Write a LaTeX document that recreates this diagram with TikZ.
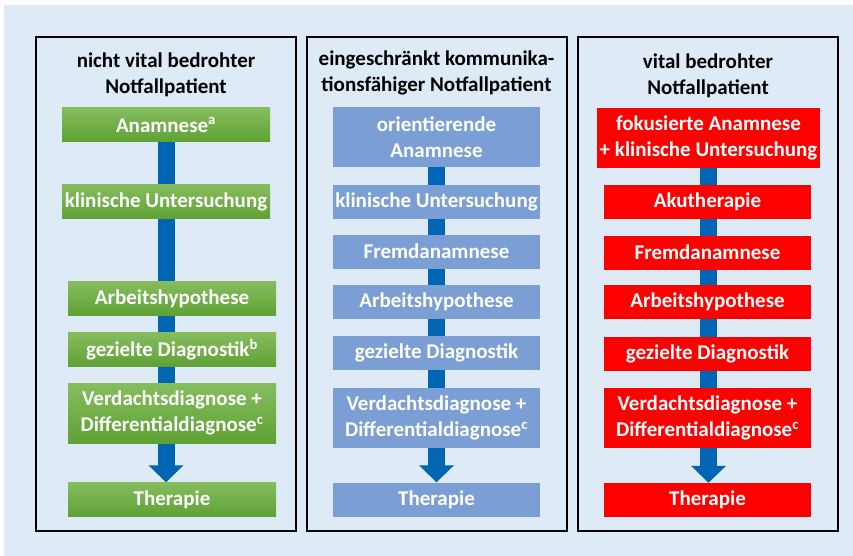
\documentclass[tikz,border=0pt]{standalone}
\usepackage{fontspec}
\setmainfont{Carlito}
\usetikzlibrary{arrows.meta}

\definecolor{hgblau}{RGB}{222,234,246}
\definecolor{pfeilblau}{RGB}{0,101,178}
\definecolor{gruenoben}{RGB}{134,189,95}
\definecolor{gruenunten}{RGB}{94,161,51}
\definecolor{kastenblau}{RGB}{123,159,212}
\definecolor{kastenrot}{RGB}{255,0,0}

\pgfdeclarelayer{hinten}
\pgfdeclarelayer{mitte}
\pgfsetlayers{hinten,mitte,main}

\tikzset{
  kasten/.style={text=white, font=\bfseries\fontsize{21}{26}\selectfont,
    align=center, inner sep=0pt, minimum height=34pt},
  gruen/.style={kasten, top color=gruenoben, bottom color=gruenunten, minimum width=208pt},
  blau/.style={kasten, fill=kastenblau, minimum width=207pt},
  rot/.style={kasten, fill=kastenrot, minimum width=207pt},
  zweizeilig/.style={minimum height=60pt},
  titel/.style={font=\bfseries\fontsize{21}{26}\selectfont, align=center, inner sep=0pt},
  spalte/.style={draw=black, line width=2pt},
  pfeil/.style={draw=pfeilblau, line width=17pt, -{Triangle[width=34pt,length=17pt]}},
}

\begin{document}
\begin{tikzpicture}[x=1pt,y=-1pt]
\useasboundingbox (0,0) rectangle (853,556);

\begin{pgfonlayer}{hinten}
  \fill[hgblau] (4,5) rectangle (853,556);
  \draw[spalte] (36,37) rectangle (296,531);
  \draw[spalte] (307,37) rectangle (567,531);
  \draw[spalte] (578,37) rectangle (838,531);
\end{pgfonlayer}

% nicht vital bedrohter Patient
\node[titel] (ltitel) at (166,75) {nicht vital bedrohter\\Notfallpatient};
\node[gruen] (l1) at (166,125) {Anamnese\textsuperscript{a}};
\node[gruen] (l2) at (166,201.5) {klinische Untersuchung};
\node[gruen] (l3) at (172,298.5) {Arbeitshypothese};
\node[gruen] (l4) at (172,349.5) {gezielte Diagnostik\textsuperscript{b}};
\node[gruen,zweizeilig] (l5) at (172,413) {Verdachtsdiagnose +\\Differentialdiagnose\textsuperscript{c}};
\node[gruen] (l6) at (172,499.5) {Therapie};

% eingeschraenkt kommunikationsfaehiger Patient
\node[titel] (mtitel) at (436.5,73) {eingeschränkt kommunika-\\tionsfähiger Notfallpatient};
\node[blau,zweizeilig] (m1) at (436.5,137) {orientierende\\Anamnese};
\node[blau] (m2) at (436.5,202) {klinische Untersuchung};
\node[blau] (m3) at (436.5,251.5) {Fremdanamnese};
\node[blau] (m4) at (436.5,301.5) {Arbeitshypothese};
\node[blau] (m5) at (436.5,352.5) {gezielte Diagnostik};
\node[blau,zweizeilig] (m6) at (436.5,418) {Verdachtsdiagnose +\\Differentialdiagnose\textsuperscript{c}};
\node[blau] (m7) at (436.5,499.5) {Therapie};

% vital bedrohter Patient
\node[titel] (rtitel) at (708,76) {vital bedrohter\\Notfallpatient};
\node[rot,zweizeilig,minimum width=223pt] (r1) at (708.5,138) {fokusierte Anamnese\\+ klinische Untersuchung};
\node[rot] (r2) at (707.5,202) {Akutherapie};
\node[rot] (r3) at (707.5,252.5) {Fremdanamnese};
\node[rot] (r4) at (707.5,302) {Arbeitshypothese};
\node[rot] (r5) at (707.5,354) {gezielte Diagnostik};
\node[rot,zweizeilig] (r6) at (707.5,418) {Verdachtsdiagnose +\\Differentialdiagnose\textsuperscript{c}};
\node[rot] (r7) at (707.5,500) {Therapie};

\begin{pgfonlayer}{mitte}
  \draw[pfeil] (l1.south) -- (l1.south |- l6.north);
  \draw[pfeil] (m1.south) -- (m1.south |- m7.north);
  \draw[pfeil] (r1.south) -- (r1.south |- r7.north);
\end{pgfonlayer}
\end{tikzpicture}
\end{document}
